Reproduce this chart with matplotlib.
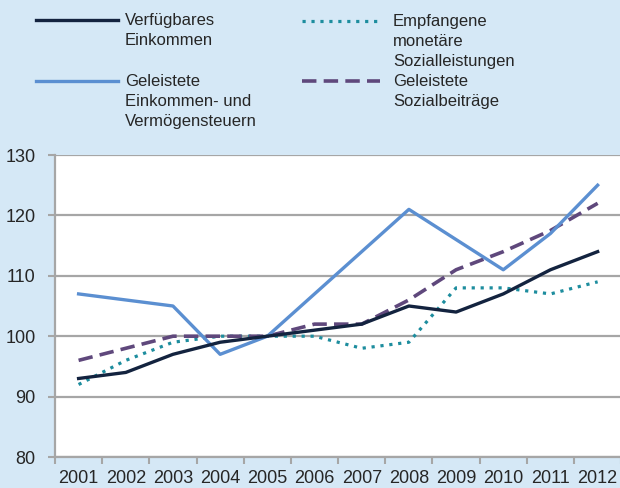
import matplotlib.pyplot as plt
from matplotlib.lines import Line2D

plt.rcParams['font.family'] = ['Liberation Sans', 'DejaVu Sans']

# data (index values)
years = ['2001', '2002', '2003', '2004', '2005', '2006',
         '2007', '2008', '2009', '2010', '2011', '2012']
verfuegbar = [93, 94, 97, 99, 100, 101, 102, 105, 104, 107, 111, 114]
steuern = [107, 106, 105, 97, 100, 107, 114, 121, 116, 111, 117, 125]
sozialleist = [92, 96, 99, 100, 100, 100, 98, 99, 108, 108, 107, 109]
sozialbeitr = [96, 98, 100, 100, 100, 102, 102, 106, 111, 114, 117.5, 122]

labels = ['Verfügbares\nEinkommen',
          'Geleistete\nEinkommen- und\nVermögensteuern',
          'Empfangene\nmonetäre\nSozialleistungen',
          'Geleistete\nSozialbeiträge']

bg = '#d5e8f6'
c_dark = '#13233f'
c_blue = '#5b8fd1'
c_teal = '#1d8d9e'
c_purple = '#5f487c'
grid_c = '#a6a6a6'
txt_c = '#262626'

W, H = 620, 488
fig = plt.figure(figsize=(W / 100, H / 100), dpi=100, facecolor=bg)
ax = fig.add_axes([55 / W, 1 - 457 / H, 1 - 55 / W + 0.002, (457 - 155) / H])
ax.set_facecolor('white')

x = range(len(years))
ax.plot(x, sozialleist, color=c_teal, lw=2.3, ls=(0, (1, 1.8)), zorder=3)
ax.plot(x, sozialbeitr, color=c_purple, lw=2.6, ls=(0, (4, 2)), zorder=3)
ax.plot(x, steuern, color=c_blue, lw=2.4, zorder=4)
ax.plot(x, verfuegbar, color=c_dark, lw=2.4, zorder=5)

ax.set_xlim(-0.5, len(years) - 0.5)
ax.set_ylim(80, 130)
ax.set_yticks(range(80, 131, 10))
ax.set_xticks(list(x))
ax.set_xticklabels(years)
ax.set_xticks([i - 0.5 for i in range(len(years) + 1)], minor=True)
ax.tick_params(axis='x', which='major', length=0, pad=9.5, labelsize=13, colors=txt_c)
ax.tick_params(axis='x', which='minor', length=5, width=1.5, color=grid_c)
ax.tick_params(axis='y', length=5, width=1.5, color=grid_c, pad=9, labelsize=13, labelcolor=txt_c)
ax.grid(axis='y', color=grid_c, lw=1.6, zorder=1)
ax.set_axisbelow(True)
for s in ['top', 'right']:
    ax.spines[s].set_visible(False)
for s in ['left', 'bottom']:
    ax.spines[s].set_color(grid_c)
    ax.spines[s].set_linewidth(1.6)


# legend laid out by hand, rows aligned like the original
def legend_entry(x0, x1, ly, tx, label, **kw):
    fig.add_artist(Line2D([x0 / W, x1 / W], [1 - ly / H, 1 - ly / H],
                          transform=fig.transFigure, **kw))
    fig.text(tx / W, 1 - (ly - 7) / H, label, va='top', ha='left',
             fontsize=12, color=txt_c, linespacing=1.4)


legend_entry(36, 118, 20, 125, labels[0], color=c_dark, lw=2.4)
legend_entry(36, 118, 81, 125, labels[1], color=c_blue, lw=2.4)
legend_entry(302, 380, 21, 393, labels[2], color=c_teal, lw=2.3, ls=(0, (1, 1.8)))
legend_entry(302, 380, 81, 393, labels[3], color=c_purple, lw=2.6, ls=(0, (4, 2)))

fig.savefig('out.png', dpi=100, facecolor=bg)
